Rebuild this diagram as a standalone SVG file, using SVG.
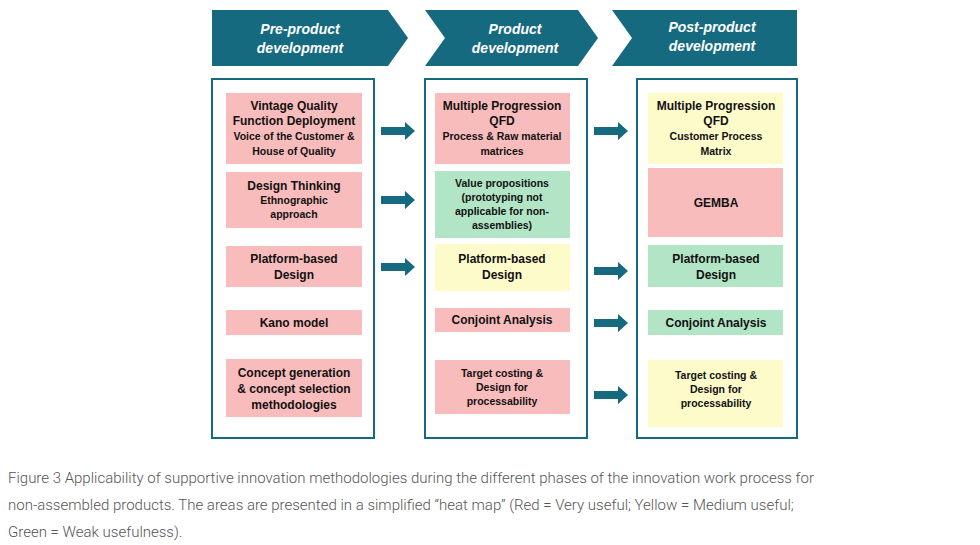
<svg xmlns="http://www.w3.org/2000/svg" width="980" height="545" viewBox="0 0 980 545">
<style>
.hd{fill:#156a80}
.hdt{font-family:"Liberation Sans",Arial,sans-serif;font-weight:bold;font-style:italic;font-size:14px;fill:#fff;text-anchor:middle}
.panel{fill:#fff;stroke:#156a80;stroke-width:2}
.r{fill:#f9bcbc}.y{fill:#fdfbc9}.g{fill:#b2e5c6}
.t{font-family:"Liberation Sans",Arial,sans-serif;font-weight:bold;font-size:12px;fill:#111;text-anchor:middle}
.s{font-size:10.5px}
.cap{font-family:"Roboto","Liberation Sans",sans-serif;font-weight:300;font-size:15px;fill:#555}
.ar{fill:#156a80}
</style>
<rect width="980" height="545" fill="#fff"/>
<g id="headers">
<polygon class="hd" points="212,10 388,10 408,38 388,66 212,66"/>
<text class="hdt" x="300" y="34">Pre-product</text><text class="hdt" x="300" y="53">development</text>
<polygon class="hd" points="425,10 578,10 598,38 578,66 425,66 445,38"/>
<text class="hdt" x="515" y="34">Product</text><text class="hdt" x="515" y="53">development</text>
<polygon class="hd" points="612,10 797,10 797,66 612,66 632,38"/>
<text class="hdt" x="712" y="32">Post-product</text><text class="hdt" x="712" y="51">development</text>
</g>
<g id="panels">
<rect class="panel" x="212" y="79" width="162" height="359"/>
<rect class="panel" x="425" y="79" width="162" height="359"/>
<rect class="panel" x="637" y="79" width="160" height="359"/>
</g>
<g id="col1">
<g id="c1a"><rect class="r" x="226" y="93" width="136" height="71"/>
<text class="t" x="294" y="110">Vintage Quality</text><text class="t" x="294" y="125">Function Deployment</text><text class="t s" x="294" y="140">Voice of the Customer &amp;</text><text class="t s" x="294" y="155">House of Quality</text></g>
<g id="c1b"><rect class="r" x="226" y="172" width="136" height="56"/>
<text class="t" x="294" y="190">Design Thinking</text><text class="t s" x="294" y="204">Ethnographic</text><text class="t s" x="294" y="218">approach</text></g>
<g id="c1c"><rect class="r" x="226" y="246" width="136" height="41"/>
<text class="t" x="294" y="263">Platform-based</text><text class="t" x="294" y="279">Design</text></g>
<g id="c1d"><rect class="r" x="226" y="310" width="136" height="25"/>
<text class="t" x="294" y="327">Kano model</text></g>
<g id="c1e"><rect class="r" x="226" y="359" width="136" height="58"/>
<text class="t" x="294" y="377">Concept generation</text><text class="t" x="294" y="393">&amp; concept selection</text><text class="t" x="294" y="409">methodologies</text></g>
</g>
<g id="col2">
<g id="c2a"><rect class="r" x="435" y="93" width="135" height="71"/>
<text class="t" x="502" y="110">Multiple Progression</text><text class="t" x="502" y="125">QFD</text><text class="t s" x="502" y="140">Process &amp; Raw material</text><text class="t s" x="502" y="155">matrices</text></g>
<g id="c2b"><rect class="g" x="435" y="171" width="135" height="67"/>
<text class="t s" x="502" y="187">Value propositions</text><text class="t s" x="502" y="201">(prototyping not</text><text class="t s" x="502" y="215">applicable for non-</text><text class="t s" x="502" y="229">assemblies)</text></g>
<g id="c2c"><rect class="y" x="435" y="244" width="135" height="47"/>
<text class="t" x="502" y="263">Platform-based</text><text class="t" x="502" y="279">Design</text></g>
<g id="c2d"><rect class="r" x="435" y="308" width="135" height="24"/>
<text class="t" x="502" y="324">Conjoint Analysis</text></g>
<g id="c2e"><rect class="r" x="435" y="360" width="135" height="54"/>
<text class="t s" x="502" y="377">Target costing &amp;</text><text class="t s" x="502" y="391">Design for</text><text class="t s" x="502" y="405">processability</text></g>
</g>
<g id="col3">
<g id="c3a"><rect class="y" x="648" y="93" width="135" height="71"/>
<text class="t" x="716" y="110">Multiple Progression</text><text class="t" x="716" y="125">QFD</text><text class="t s" x="716" y="140">Customer Process</text><text class="t s" x="716" y="155">Matrix</text></g>
<g id="c3b"><rect class="r" x="648" y="168" width="135" height="69"/>
<text class="t" x="716" y="207">GEMBA</text></g>
<g id="c3c"><rect class="g" x="648" y="245" width="135" height="42"/>
<text class="t" x="716" y="263">Platform-based</text><text class="t" x="716" y="279">Design</text></g>
<g id="c3d"><rect class="g" x="648" y="310" width="135" height="25"/>
<text class="t" x="716" y="327">Conjoint Analysis</text></g>
<g id="c3e"><rect class="y" x="648" y="360" width="135" height="67"/>
<text class="t s" x="716" y="379">Target costing &amp;</text><text class="t s" x="716" y="393">Design for</text><text class="t s" x="716" y="407">processability</text></g>
</g>
<defs><polygon id="arr" points="0,-4 24,-4 24,-9 34,0 24,9 24,4 0,4"/></defs>
<g id="connectors" class="ar">
<use href="#arr" x="381" y="131"/><use href="#arr" x="381" y="200"/><use href="#arr" x="381" y="267"/>
<use href="#arr" x="594" y="131"/><use href="#arr" x="594" y="271"/><use href="#arr" x="594" y="323"/><use href="#arr" x="594" y="395"/>
</g>
<g id="caption">
<text class="cap" x="8" y="483">Figure 3 Applicability of supportive innovation methodologies during the different phases of the innovation work process for</text>
<text class="cap" x="8" y="510">non-assembled products. The areas are presented in a simplified “heat map” (Red = Very useful; Yellow = Medium useful;</text>
<text class="cap" x="8" y="537">Green = Weak usefulness).</text>
</g>
</svg>
